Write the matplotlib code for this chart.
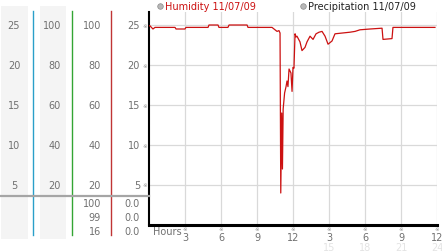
import matplotlib
matplotlib.use("Agg")
import matplotlib.pyplot as plt
from matplotlib.lines import Line2D
from matplotlib.patches import Rectangle

W, H = 442, 253

# ---- data ----
hours = [0.0, 0.08, 0.33, 0.5, 2.17, 2.25, 3.0, 3.08, 4.92, 5.0, 5.75, 5.83, 6.58, 6.67,
         8.17, 8.25, 10.25, 10.67, 10.83, 10.92, 10.98, 11.06, 11.12, 11.18, 11.3, 11.42,
         11.5, 11.58, 11.67, 11.83, 11.92, 12.0, 12.08, 12.17, 12.25, 12.33, 12.58, 12.75,
         13.0, 13.17, 13.42, 13.67, 13.92, 14.17, 14.42, 14.67, 14.92, 15.25, 15.5, 16.75,
         17.17, 17.58, 18.42, 19.42, 19.5, 20.25, 20.33, 23.83]
humidity = [24.9, 24.9, 24.5, 24.7, 24.7, 24.5, 24.5, 24.7, 24.7, 25.0, 25.0, 24.7, 24.7, 25.0,
            25.0, 24.7, 24.7, 24.2, 24.3, 24.0, 4.0, 14.0, 7.0, 14.5, 16.5, 17.3,
            18.0, 17.3, 19.5, 19.0, 16.7, 19.7, 19.6, 23.9, 23.5, 23.6, 22.9, 21.8,
            22.2, 22.9, 23.6, 23.2, 23.9, 24.1, 24.2, 23.6, 22.6, 23.0, 23.9, 24.1,
            24.2, 24.4, 24.5, 24.6, 23.2, 23.3, 24.7, 24.7]

col1_labels = ["25", "20", "15", "10", "5"]
col2_labels = ["100", "80", "60", "40", "20"]
col3_labels = ["100", "80", "60", "40", "20"]
col4_labels = ["25", "20", "15", "10", "5"]
col3_extra = ["100", "99", "16"]
col4_extra = ["0.0", "0.0", "0.0"]
label_values = [25, 20, 15, 10, 5]
x_ticks = [3, 6, 9, 12, 15, 18, 21, 24]
x_tick_labels = ["3", "6", "9", "12", "3", "6", "9", "12"]
x_faint_ticks = [15, 18, 21, 24]
x_faint_labels = ["15", "18", "21", "24"]
legend_labels = ["Humidity 11/07/09", "Precipitation 11/07/09"]

fig = plt.figure(figsize=(W / 100, H / 100), dpi=100)
fig.patch.set_facecolor("white")

def fx(x):
    return x / W

def fy(y):
    return 1 - y / H

# plot axes geometry in pixels
AX_L, AX_R, AX_T, AX_B = 149, 437, 13, 226
YMAX = (AX_B - AX_T) / 8.0
ax = fig.add_axes([fx(AX_L), fy(AX_B), (AX_R - AX_L) / W, (AX_B - AX_T) / H])
ax.set_xlim(0, 24)
ax.set_ylim(0, YMAX)
for s in ["top", "right"]:
    ax.spines[s].set_visible(False)
ax.spines["left"].set_color("black")
ax.spines["left"].set_linewidth(1.5)
ax.spines["bottom"].set_color("black")
ax.spines["bottom"].set_linewidth(2.2)
ax.set_xticks(x_ticks)
ax.set_yticks(label_values)
ax.tick_params(length=0, labelleft=False, labelbottom=False)
ax.grid(True, color="#d9d9d9", linewidth=0.9)
ax.set_axisbelow(True)
ax.plot(hours, humidity, color="#cc1111", linewidth=0.9, zorder=3)

grey = "#707070"
fs = 7

# tick labels on x
for t, lab in zip(x_ticks, x_tick_labels):
    xp = AX_L + t * 12
    fig.text(fx(xp), fy(230), "\u203b", fontsize=4, color="#909090", ha="center", va="center")
    fig.text(fx(xp), fy(238.5), lab, fontsize=fs, color=grey, ha="center", va="center")
for t, lab in zip(x_faint_ticks, x_faint_labels):
    xp = AX_L + t * 12
    fig.text(fx(xp), fy(248.5), lab, fontsize=fs, color="#e3e3e3", ha="center", va="center")
fig.text(fx(153), fy(232.5), "Hours", fontsize=fs, color=grey, ha="left", va="center")

# left panel backgrounds
for x0, x1 in [(1, 28), (40, 66)]:
    fig.patches.append(Rectangle((fx(x0), fy(240)), (x1 - x0) / W, (240 - 7) / H,
                                 transform=fig.transFigure, facecolor="#f4f4f4",
                                 edgecolor="none", zorder=0))

# vertical colored lines
for xv, c in [(33, "#2a9fc9"), (72, "#33a533"), (111, "#c03535")]:
    fig.lines.append(Line2D([fx(xv), fx(xv)], [fy(12), fy(236)], transform=fig.transFigure,
                            color=c, linewidth=1.0))

# horizontal grey separator
fig.lines.append(Line2D([fx(0), fx(AX_L)], [fy(196.5), fy(196.5)], transform=fig.transFigure,
                        color="#a5a5a5", linewidth=1.6))

# column labels
for v, a, b, c, d in zip(label_values, col1_labels, col2_labels, col3_labels, col4_labels):
    yp = AX_B - v * 8
    fig.text(fx(14), fy(yp), a, fontsize=fs, color=grey, ha="center", va="center")
    fig.text(fx(61), fy(yp), b, fontsize=fs, color=grey, ha="right", va="center")
    fig.text(fx(101), fy(yp), c, fontsize=fs, color=grey, ha="right", va="center")
    fig.text(fx(140), fy(yp), d, fontsize=fs, color=grey, ha="right", va="center")
    fig.text(fx(145), fy(yp), "\u203b", fontsize=4, color="#909090", ha="center", va="center")

for i, (c, d) in enumerate(zip(col3_extra, col4_extra)):
    yp = 204.5 + i * 14
    fig.text(fx(101), fy(yp), c, fontsize=fs, color=grey, ha="right", va="center")
    fig.text(fx(140), fy(yp), d, fontsize=fs, color=grey, ha="right", va="center")

# legend
for (cx, tx), lab, col in zip([(160, 165), (303, 308)], legend_labels, ["#cc1111", "#222222"]):
    fig.lines.append(Line2D([fx(cx)], [fy(6.5)], transform=fig.transFigure, marker="o",
                            markersize=4, markerfacecolor="#b8b8b8",
                            markeredgecolor="#8a8a8a", markeredgewidth=0.5, linestyle="none"))
    fig.text(fx(tx), fy(6.5), lab, fontsize=fs, color=col, ha="left", va="center")

fig.savefig("out.png", dpi=100)
